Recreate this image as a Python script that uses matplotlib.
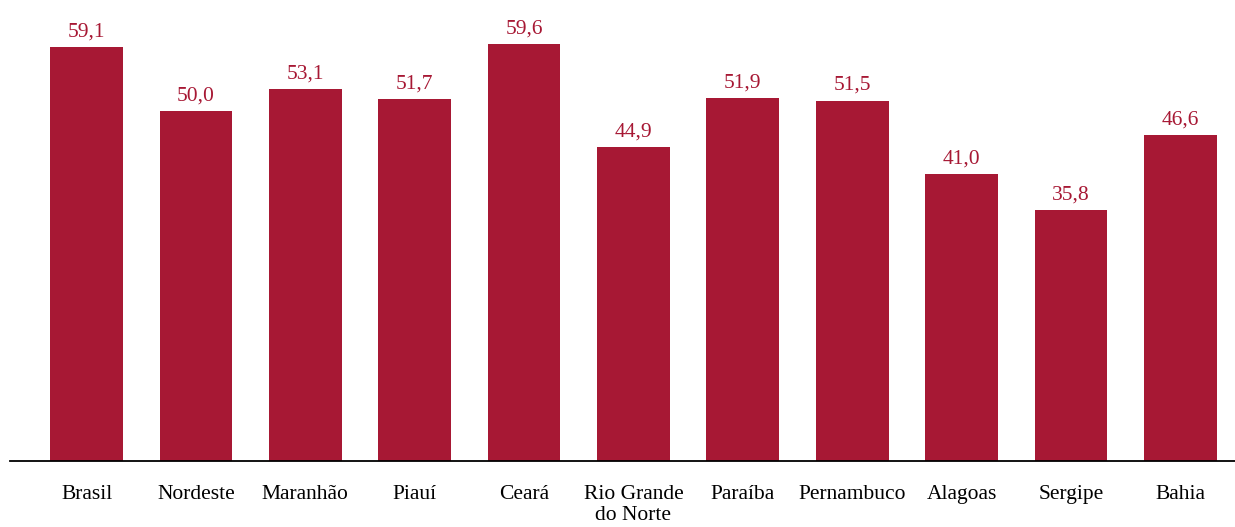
import matplotlib
matplotlib.use('Agg')
import matplotlib.pyplot as plt

regioes = ['Brasil', 'Nordeste', 'Maranhão', 'Piauí', 'Ceará', 'Rio Grande\ndo Norte',
           'Paraíba', 'Pernambuco', 'Alagoas', 'Sergipe', 'Bahia']
valores = [59.1, 50.0, 53.1, 51.7, 59.6, 44.9, 51.9, 51.5, 41.0, 35.8, 46.6]

cor = '#A71834'
plt.rcParams['font.family'] = ['Liberation Serif', 'DejaVu Serif']

fig = plt.figure(figsize=(12.35, 5.27), dpi=100)
ax = fig.add_axes([10 / 1235, 66 / 527, 1225 / 1235, 461 / 527])

x = list(range(len(regioes)))
bars = ax.bar(x, valores, width=0.665, color=cor)
for xi, v in zip(x, valores):
    ax.text(xi, v + 1.5, f'{v:.1f}'.replace('.', ','), ha='center', va='baseline',
            fontsize=15.5, color=cor)

ax.set_xlim(-0.7, 10.5)
ax.set_ylim(0, 65.86)
ax.set_xticks(x)
ax.set_xticklabels(regioes, fontsize=15.5, linespacing=1.2)
ax.tick_params(axis='x', length=0, pad=17)
ax.set_yticks([])
for s in ['top', 'right', 'left']:
    ax.spines[s].set_visible(False)
ax.spines['bottom'].set_linewidth(1.3)

fig.savefig('out.png', dpi=100)
